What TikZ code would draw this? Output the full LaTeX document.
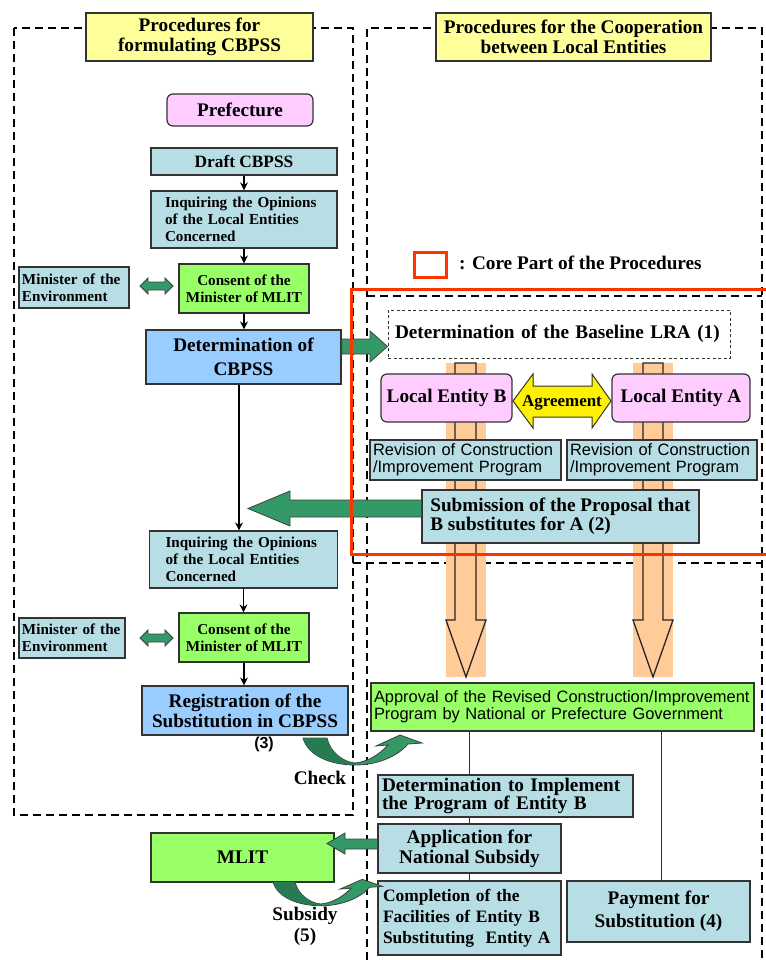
\documentclass[tikz,border=0pt]{standalone}
\usepackage{fontspec}
\setmainfont{Liberation Serif}
\setsansfont{Liberation Sans}
\usetikzlibrary{arrows.meta}

\definecolor{cellblue}{RGB}{183,222,228}
\definecolor{stepgreen}{RGB}{153,255,102}
\definecolor{skyblue}{RGB}{153,204,255}
\definecolor{pinkbox}{RGB}{255,204,255}
\definecolor{titleyellow}{RGB}{255,255,153}
\definecolor{arrowgreen}{RGB}{51,153,102}
\definecolor{darkgreen}{RGB}{40,122,80}
\definecolor{barorange}{RGB}{255,204,153}
\definecolor{corered}{RGB}{255,51,0}

\begin{document}
\begin{tikzpicture}
  [x=1bp, y=-1bp,
  every node/.style={inner sep=0pt, text=black},
  procbox/.style={draw=black!80, line width=1.2bp, align=center},
  bigtext/.style={font=\bfseries\fontsize{19.3}{20}\selectfont},
  smalltext/.style={font=\bfseries\fontsize{15.2}{17}\selectfont},
  sanstext/.style={font=\sffamily\fontsize{16.5}{17.5}\selectfont},
  cell/.style={procbox, fill=cellblue},
  entity/.style={procbox, fill=pinkbox, rounded corners=6bp, bigtext},
  frame/.style={line width=2.4bp, dash pattern=on 8bp off 5bp},
  arr/.style={-{Stealth[length=8bp, width=8bp]}, line width=1.6bp},
  link/.style={line width=1bp, black!80},
  garrow/.style={fill=arrowgreen, draw=black!75, line width=0.8bp},
  hollow/.style={draw=black!85, line width=1.3bp},
  bendarrow/.pic={
    \filldraw[garrow] (0,0) .. controls (5,18) and (28,27) .. (52,27)
      .. controls (75,27) and (95,18) .. (105,6)
      -- (119,5) -- (97,-3) -- (73,8) -- (85,7)
      .. controls (75,18) and (63,24) .. (52,25)
      .. controls (40,24) and (27,14) .. (24,0) -- cycle;
    \fill[darkgreen] (0.6,0.4) .. controls (5,18) and (28,26.5) .. (52,26.5)
      -- (52,25) .. controls (40,24) and (27,14) .. (23.5,0.4) -- cycle;
  },
  ]
  \useasboundingbox (0,0) rectangle (766,960);

  % dashed frames
  \draw[frame] (14,28) rectangle (353,815);
  \draw[frame] (367,960) -- (367,28) -- (762,28) -- (762,960);
  \draw[frame] (367,296) -- (762,296);
  \draw[frame] (353,563) -- (762,563);

  % orange bars with hollow arrows
  \fill[barorange] (446,363) rectangle (486,677);
  \fill[barorange] (633,363) rectangle (673,677);
  \draw[hollow] (455,363) -- (455,620) -- (446,620) -- (466,677) -- (486,620) -- (476,620) -- (476,363) -- cycle;
  \draw[hollow] (643,363) -- (643,620) -- (633,620) -- (653,677) -- (673,620) -- (663,620) -- (663,363) -- cycle;

  % left column
  \node[procbox, fill=titleyellow, bigtext, minimum width=227bp, minimum height=48bp] (titleL) at (199.5,37) {Procedures for\\formulating CBPSS};
  \node[entity, minimum width=146bp, minimum height=32bp] (pref) at (240,110) {Prefecture};
  \node[cell, font=\bfseries\fontsize{17.4}{18}\selectfont, minimum width=186bp, minimum height=27bp] (draft) at (244,161.5) {Draft CBPSS};
  \node[cell, smalltext, align=left, text width=158bp, inner xsep=14bp, minimum height=57bp] (inq1) at (244,219.5) {Inquiring the Opinions\\of the Local Entities\\Concerned};
  \node[cell, smalltext, align=left, text width=104bp, inner xsep=3bp, minimum height=41bp] (env1) at (74,287.5) {Minister of the\\Environment};
  \node[procbox, fill=stepgreen, smalltext, minimum width=130bp, minimum height=49bp] (mlit1) at (244,288.5) {Consent of the\\Minister of MLIT};
  \node[procbox, fill=skyblue, font=\bfseries\fontsize{19.3}{24}\selectfont, minimum width=195bp, minimum height=54bp] (cbpss) at (243.5,357) {Determination of\\CBPSS};
  \node[cell, smalltext, align=left, text width=156bp, inner xsep=16bp, minimum height=57bp] (inq2) at (243.5,559.5) {Inquiring the Opinions\\of the Local Entities\\Concerned};
  \node[cell, smalltext, align=left, text width=100bp, inner xsep=3bp, minimum height=40bp] (env2) at (72,638) {Minister of the\\Environment};
  \node[procbox, fill=stepgreen, smalltext, minimum width=130bp, minimum height=49bp] (mlit2) at (244,637.5) {Consent of the\\Minister of MLIT};
  \node[procbox, fill=skyblue, bigtext, minimum width=206bp, minimum height=49bp] (reg) at (245,710.5) {Registration of the\\Substitution in CBPSS};
  \node[font=\sffamily\bfseries\fontsize{16}{16}\selectfont] (regnum) at (264,744) {(3)};
  \node[bigtext] (checklbl) at (320,778) {Check};
  \node[procbox, fill=stepgreen, bigtext, minimum width=183bp, minimum height=49bp] (mlit) at (242.5,857.5) {MLIT};
  \node[font=\bfseries\fontsize{19.3}{21}\selectfont, align=center] (subsidy) at (305,926) {Subsidy\\(5)};

  % right column
  \node[procbox, fill=titleyellow, bigtext, minimum width=275bp, minimum height=48bp] (titleR) at (573.5,37) {Procedures for the Cooperation\\between Local Entities};
  \node[draw=corered, line width=3bp, minimum width=32bp, minimum height=25bp] (key) at (430,264.5) {};
  \node[bigtext, anchor=west] (keytext) at (459,263) {: Core Part of the Procedures};
  \node[bigtext, fill=white, draw=black!80, line width=1bp, dash pattern=on 3bp off 2.5bp, align=left, text width=328bp, inner xsep=7bp, minimum height=48bp] (lra) at (559,334) {Determination of the Baseline LRA (1)};
  \node[entity, minimum width=131bp, minimum height=48bp] (entB) at (446.5,398) {\raisebox{5bp}{Local Entity B}};
  \node[entity, minimum width=138bp, minimum height=48bp] (entA) at (681,398) {\raisebox{5bp}{Local Entity A}};
  \node[cell, sanstext, align=left, text width=185bp, inner xsep=3bp, minimum height=40bp] (revB) at (465.5,460) {Revision of Construction\\/Improvement Program};
  \node[cell, sanstext, align=left, text width=184bp, inner xsep=3bp, minimum height=40bp] (revA) at (662,460) {Revision of Construction\\/Improvement Program};
  \node[cell, font=\bfseries\fontsize{19.3}{19}\selectfont, align=left, minimum width=277bp, minimum height=53bp] (propose) at (560.5,516.5) {Submission of the Proposal that\\B substitutes for A (2)};
  \node[procbox, fill=stepgreen, sanstext, align=left, text width=377bp, inner xsep=3bp, minimum height=48bp] (approve) at (562.5,707) {Approval of the Revised Construction/Improvement\\Program by National or Prefecture Government};
  \node[cell, font=\bfseries\fontsize{19.3}{18.5}\selectfont, align=left, text width=247bp, inner xsep=4bp, minimum height=42bp] (implement) at (505.5,796) {Determination to Implement\\the Program of Entity B};
  \node[cell, bigtext, minimum width=183bp, minimum height=49bp] (apply) at (469.5,848.5) {Application for\\National Subsidy};
  \node[cell, font=\bfseries\fontsize{17.5}{21}\selectfont, align=left, text width=173bp, inner xsep=5bp, minimum height=74bp] (complete) at (469.5,918) {Completion of the\\Facilities of Entity B\\Substituting\ \ Entity A};
  \node[cell, font=\bfseries\fontsize{19.3}{23}\selectfont, minimum width=183bp, minimum height=61bp] (pay) at (658.5,911.5) {Payment for\\Substitution (4)};

  % black flow arrows
  \draw[arr] (draft) -- (inq1);
  \draw[arr] (inq1) -- (inq1 |- mlit1.north);
  \draw[arr] (mlit1) -- (mlit1 |- cbpss.north);
  \draw[arr] (cbpss.south -| 239,0) -- (inq2.north -| 239,0);
  \draw[arr] (inq2) -- (inq2 |- mlit2.north);
  \draw[arr] (mlit2) -- (mlit2 |- reg.north);

  % thin links
  \draw[link] (approve.south -| apply) -- (implement.north -| apply);
  \draw[link] (implement.south -| apply) -- (apply.north);
  \draw[link] (apply) -- (complete);
  \draw[link] (approve.south -| 661,0) -- (pay.north -| 661,0);

  % green block arrows
  \draw[garrow] (140,286) -- (148,278) -- (148,282) -- (165,282) -- (165,278) -- (173,286) -- (165,294) -- (165,290) -- (148,290) -- (148,294) -- cycle;
  \draw[garrow] (140,638) -- (148,630) -- (148,634) -- (165,634) -- (165,630) -- (173,638) -- (165,646) -- (165,642) -- (148,642) -- (148,646) -- cycle;
  \draw[garrow] (cbpss.east |- 0,339) -- (370,339) -- (370,331) -- (lra.west |- 0,346.5) -- (370,362) -- (370,354) -- (cbpss.east |- 0,354) -- cycle;
  \coordinate (proposetip) at (248,508.5);
  \draw[garrow] (propose.west |- 0,500) -- (290,500) -- (290,491) -- (proposetip) -- (290,526) -- (290,517) -- (propose.west |- 0,517) -- cycle;
  \draw[garrow] (apply.west |- 0,839) -- (345,839) -- (345,833) -- (327,843.5) -- (345,854) -- (345,849) -- (apply.west |- 0,849) -- cycle;
  \pic at (303,738) {bendarrow};
  \pic[xscale=0.92, yscale=0.88] at (273,882) {bendarrow};

  % agreement
  \draw[fill=yellow, draw=black!80, line width=1bp] (513,401) -- (533,374) -- (533,386) -- (592,386) -- (592,374) -- (611,401) -- (592,428) -- (592,417) -- (533,417) -- (533,428) -- cycle;
  \node[font=\bfseries\fontsize{17}{17}\selectfont] (agree) at (562,403) {Agreement};

  % core part
  \draw[corered, line width=3bp] (351,289) rectangle (772,554);
\end{tikzpicture}
\end{document}
